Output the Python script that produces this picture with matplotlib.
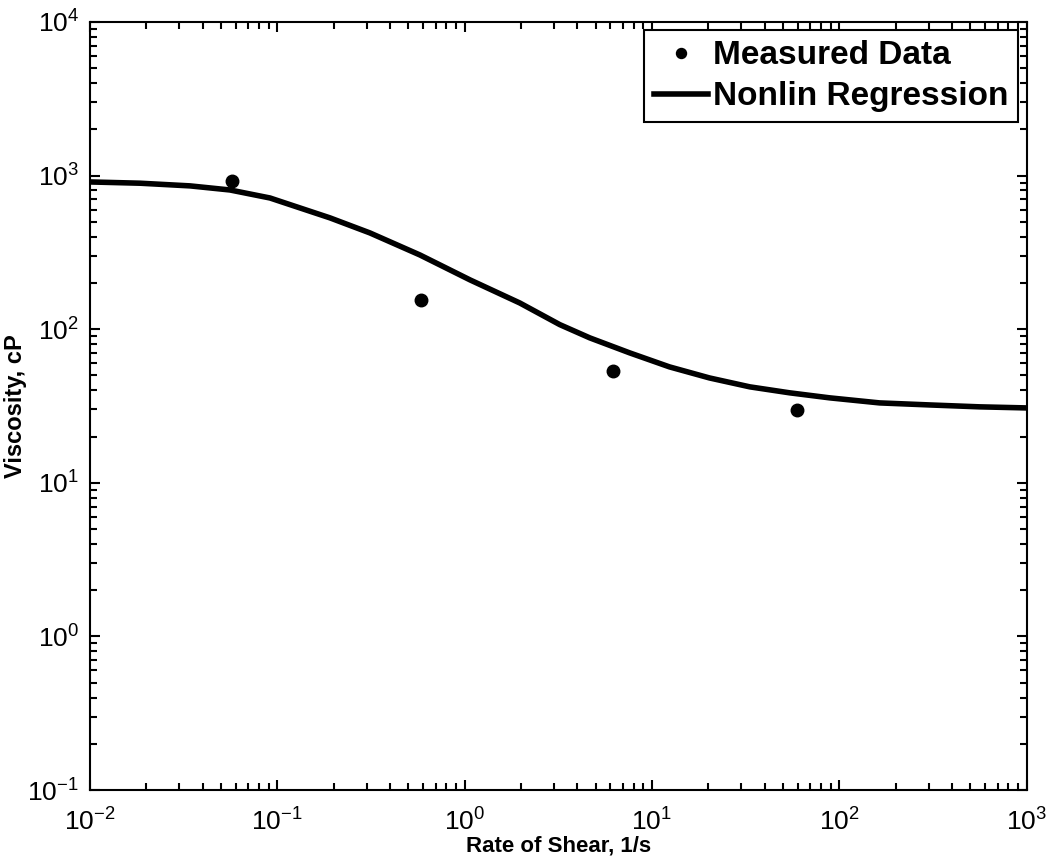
import matplotlib
matplotlib.use("Agg")
import matplotlib.pyplot as plt

plt.rcParams['font.family'] = ['Liberation Sans', 'DejaVu Sans']
plt.rcParams['mathtext.fontset'] = 'custom'
plt.rcParams['mathtext.rm'] = 'Liberation Sans'
plt.rcParams['mathtext.it'] = 'Liberation Sans'
plt.rcParams['mathtext.bf'] = 'Liberation Sans:bold'
plt.rcParams['axes.unicode_minus'] = False

# measured points
shearRate = [0.0574, 0.582, 6.18, 59.6]
viscosity = [922, 155, 53.4, 29.8]

# regression curve
fitRate = [0.0100, 0.0185, 0.0342, 0.0559, 0.0914, 0.127, 0.191, 0.312,
           0.577, 1.07, 1.97, 3.22, 4.66, 7.62, 12.4, 20.3, 33.3, 54.3,
           88.9, 164, 304, 561, 1000]
fitVisc = [908, 891, 856, 805, 714, 625, 530, 423,
           304, 209, 148, 107, 87.7, 70.0, 56.8, 48.1, 42.1, 38.5,
           35.7, 33.1, 32.1, 31.2, 30.7]

fig = plt.figure(figsize=(10.5, 8.65), dpi=100)
ax = fig.add_axes([0.0857, 0.0867, 0.892, 0.888])

ax.plot(shearRate, viscosity, 'o', color='black', markersize=9,
        label='Measured Data')
ax.plot(fitRate, fitVisc, '-', color='black', linewidth=4,
        solid_joinstyle='round', label='Nonlin Regression')

ax.set_xscale('log')
ax.set_yscale('log')
ax.set_xlim(1e-2, 1e3)
ax.set_ylim(1e-1, 1e4)

ax.tick_params(which='both', direction='in', top=True, right=True,
               labelsize=19, width=1.5)
ax.tick_params(which='major', length=7)
ax.tick_params(which='minor', length=5)
ax.tick_params(axis='x', which='major', pad=13)
ax.tick_params(axis='y', which='major', pad=8)
for s in ax.spines.values():
    s.set_linewidth(1.5)

ax.set_xlabel('Rate of Shear, 1/s', fontsize=16, fontweight='bold', labelpad=0)
ax.set_ylabel('Viscosity, cP', fontsize=17, fontweight='bold', labelpad=0)

leg = ax.legend(loc='upper right', fontsize=24, handlelength=1.6,
                handletextpad=0.15, borderpad=0.3, labelspacing=0.3,
                fancybox=False, framealpha=1, edgecolor='black',
                markerscale=0.8, borderaxespad=0.25)
leg.get_frame().set_linewidth(1.5)
for t in leg.get_texts():
    t.set_fontweight('bold')

fig.savefig('out.png', dpi=100)
